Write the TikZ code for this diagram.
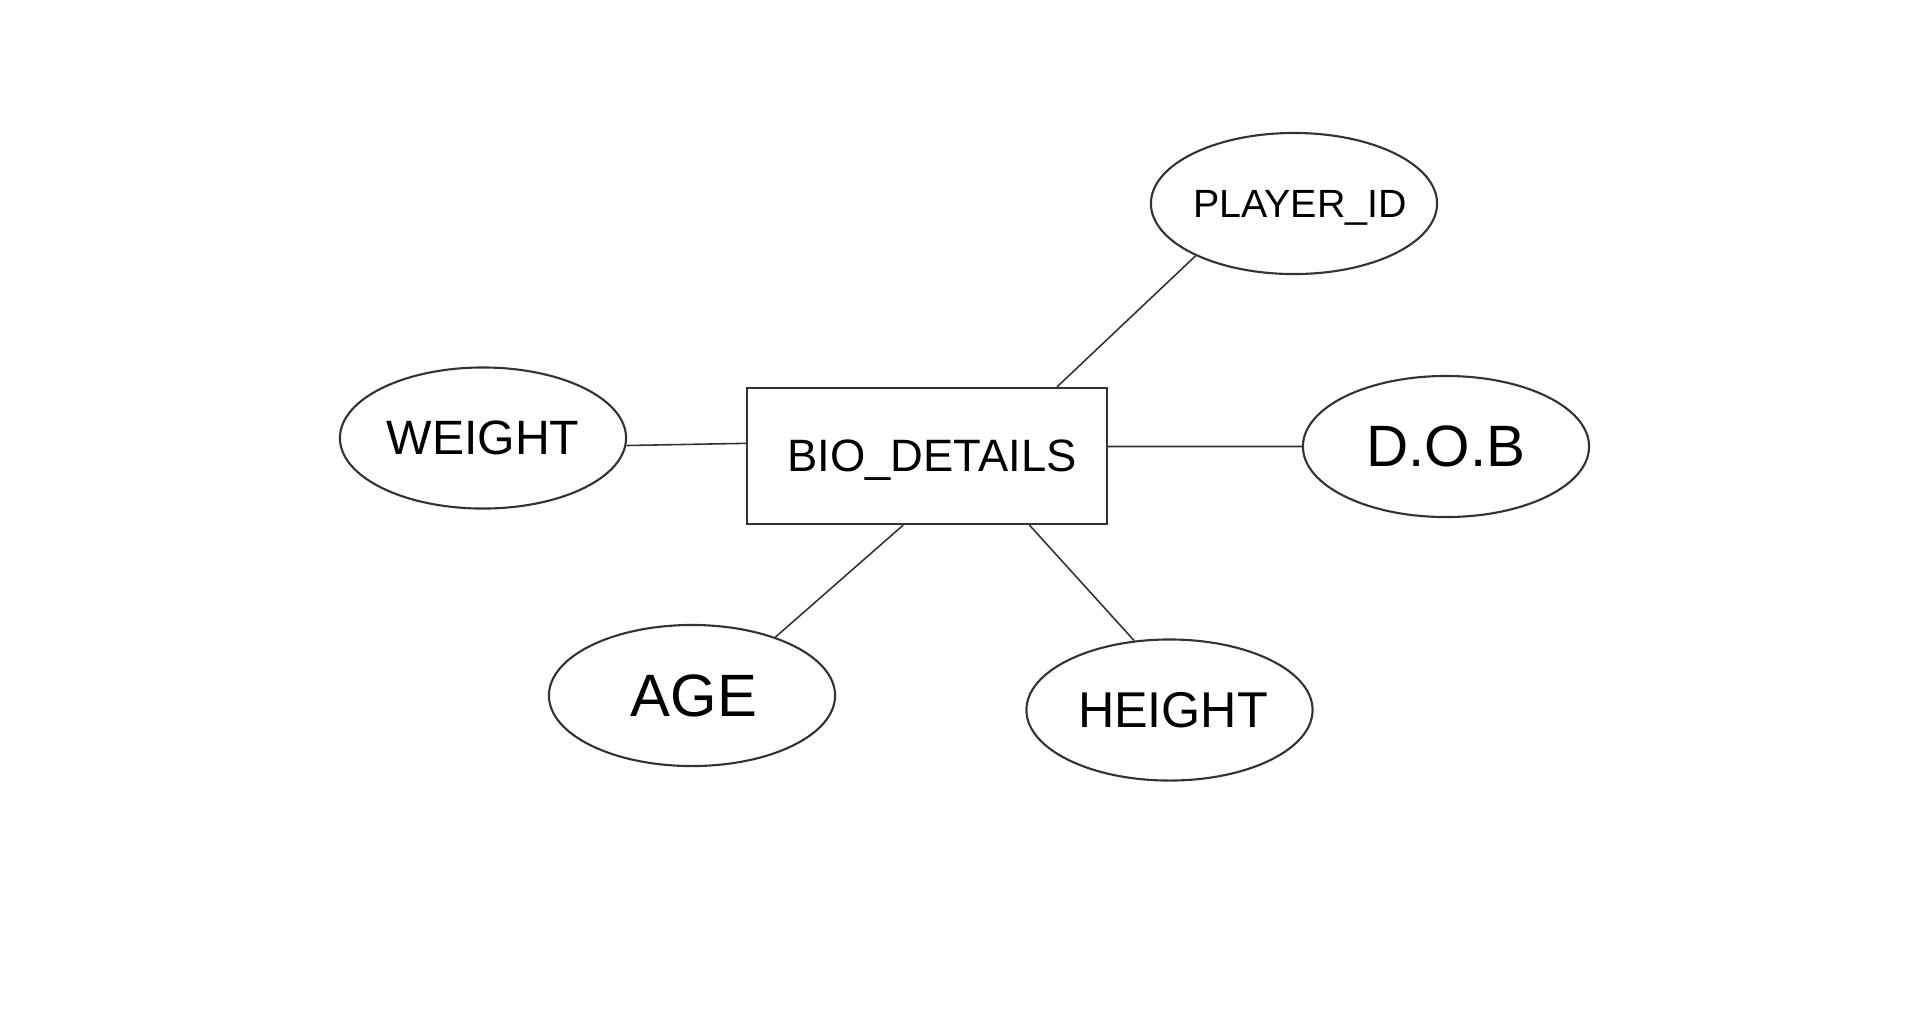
\documentclass[tikz,border=0pt]{standalone}
\usepackage{fontspec}
\setmainfont{Liberation Sans}
\usepackage{tikz}
\usetikzlibrary{shapes.geometric, positioning}

\begin{document}
\begin{tikzpicture}[
  x=0.01cm, y=-0.01cm,
  entity/.style={rectangle, draw=black!80, line width=0.6pt, minimum width=3.6cm,
                 minimum height=1.36cm, text depth=0pt, inner sep=0pt},
  attr/.style={ellipse, draw=black!80, line width=0.6pt, minimum width=2.86cm,
               minimum height=1.41cm, text depth=0pt, inner sep=0pt},
  link/.style={draw=black!80, line width=0.45pt}
]
  \useasboundingbox (0,0) rectangle (1920,1026);

  \node[entity, font=\fontsize{12.9}{15}\selectfont] (bio) at (927,456) {\hspace{2.8pt}BIO\_DETAILS};
  \node[attr, font=\fontsize{11.2}{13}\selectfont] (pid) at (1294,203.5) {\makebox[0pt]{\hspace{3.4pt}PLAYER\_ID}};
  \node[attr, font=\fontsize{13.7}{16}\selectfont] (wt)  at (483,438)  {WEIGHT};
  \node[attr, font=\fontsize{16.6}{19}\selectfont] (dob) at (1446,446.5) {D.O.B};
  \node[attr, font=\fontsize{17}{20}\selectfont]   (age) at (692,695.5) {\hspace{1pt}AGE};
  \node[attr, font=\fontsize{14.3}{17}\selectfont] (ht)  at (1169.5,710) {\makebox[0pt]{\hspace{2pt}HEIGHT}};

  \draw[link] (bio.28.5)   -- (pid.208.9);
  \draw[link] (bio.176.8)  -- (wt.-3.6);
  \draw[link] (bio.3.5)    -- (dob.west);
  \draw[link] (bio.-109.4) -- (age.35.6);
  \draw[link] (bio.-34.8)  -- (ht.117.9);
\end{tikzpicture}
\end{document}
